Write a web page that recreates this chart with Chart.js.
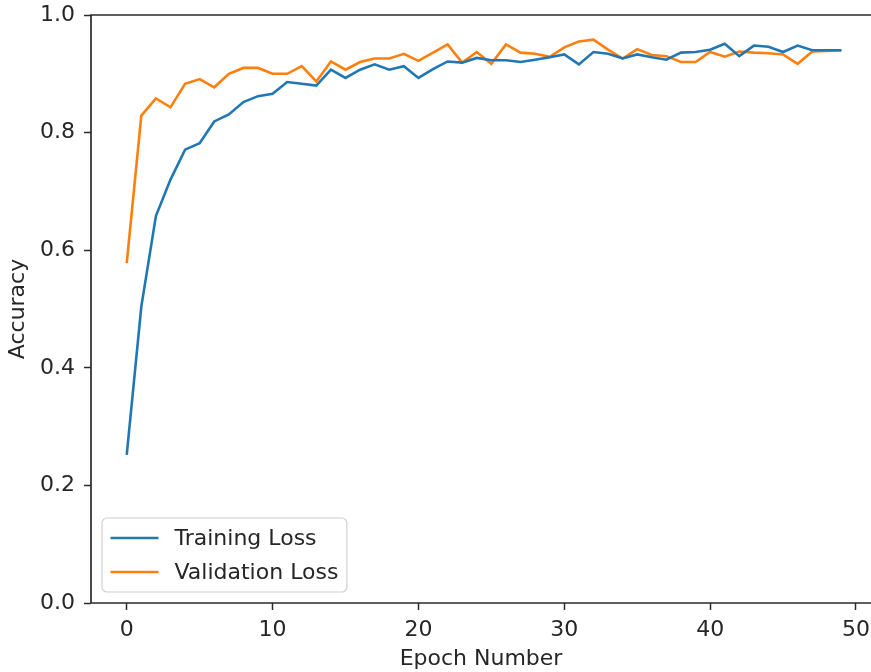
<!DOCTYPE html>
<html><head><meta charset="utf-8">
<script src="https://cdn.jsdelivr.net/npm/chart.js@4.4.1/dist/chart.umd.min.js"></script>
<style>html,body{margin:0;padding:0;overflow:hidden;background:#fff}</style>
</head><body>
<canvas id="c" width="871" height="672"></canvas>
<script>
const epochs = [0,1,2,3,4,5,6,7,8,9,10,11,12,13,14,15,16,17,18,19,20,21,22,23,24,25,26,27,28,29,30,31,32,33,34,35,36,37,38,39,40,41,42,43,44,45,46,47,48,49];
const trainingAcc = [0.252,0.504,0.658,0.720,0.771,0.782,0.819,0.831,0.852,0.862,
  0.866,0.886,0.883,0.880,0.907,0.893,0.907,0.916,0.907,0.913,
  0.893,0.908,0.921,0.919,0.927,0.923,0.923,0.920,0.924,0.928,
  0.933,0.916,0.937,0.934,0.926,0.933,0.928,0.924,0.936,0.937,
  0.941,0.951,0.930,0.948,0.946,0.937,0.948,0.940,0.940,0.940];
const validationAcc = [0.578,0.829,0.858,0.843,0.883,0.891,0.877,0.900,0.910,0.910,
  0.900,0.900,0.913,0.887,0.921,0.907,0.920,0.926,0.926,0.934,
  0.922,0.936,0.950,0.919,0.937,0.917,0.950,0.936,0.934,0.929,
  0.945,0.955,0.958,0.941,0.926,0.942,0.932,0.930,0.920,0.920,
  0.937,0.929,0.938,0.936,0.935,0.933,0.917,0.938,0.939,0.940];
const seriesLabels = ['Training Loss','Validation Loss'];
const xTicks = [0,10,20,30,40,50];
const yTicks = [0.0,0.2,0.4,0.6,0.8,1.0];
const xTitle = 'Epoch Number';
const yTitle = 'Accuracy';

const FONT = "'DejaVu Sans', sans-serif";
const FS = 22;
const TXT = '#262626';

const frameAndLegend = {
  id: 'frameAndLegend',
  afterDatasetsDraw(chart) {
    const {ctx, chartArea: a} = chart;
    ctx.save();
    ctx.strokeStyle = '#2b2b2b';
    ctx.lineWidth = 1.7;
    ctx.beginPath();
    ctx.moveTo(a.right + 5, a.top);
    ctx.lineTo(a.left, a.top);
    ctx.lineTo(a.left, a.bottom);
    ctx.lineTo(a.right + 5, a.bottom);
    ctx.stroke();
    // legend
    ctx.font = FS + 'px ' + FONT;
    const ds = chart.data.datasets;
    const tw = Math.max(...ds.map(d => ctx.measureText(d.label).width));
    const pad = 8.5, handle = 48, gap = 16, rowH = 34;
    const w = pad + handle + gap + tw + pad;
    const h = 74;
    const x0 = a.left + 11, y0 = a.bottom - 11 - h;
    ctx.beginPath();
    ctx.roundRect(x0, y0, w, h, 5);
    ctx.fillStyle = 'rgba(255,255,255,0.8)';
    ctx.fill();
    ctx.strokeStyle = '#d0d0d0';
    ctx.lineWidth = 1.2;
    ctx.stroke();
    ds.forEach((d, i) => {
      const cy = y0 + 20 + i * rowH;
      ctx.beginPath();
      ctx.moveTo(x0 + pad, cy);
      ctx.lineTo(x0 + pad + handle, cy);
      ctx.strokeStyle = d.borderColor;
      ctx.lineWidth = d.borderWidth;
      ctx.stroke();
      ctx.fillStyle = TXT;
      ctx.textBaseline = 'middle';
      ctx.textAlign = 'left';
      ctx.fillText(d.label, x0 + pad + handle + gap, cy + 1);
    });
    ctx.restore();
  }
};

new Chart(document.getElementById('c'), {
  type: 'line',
  data: {
    datasets: [
      {label: seriesLabels[0], data: epochs.map((e, i) => ({x: e, y: trainingAcc[i]})),
       borderColor: '#1f77b4', borderWidth: 2.6, pointRadius: 0, tension: 0, fill: false},
      {label: seriesLabels[1], data: epochs.map((e, i) => ({x: e, y: validationAcc[i]})),
       borderColor: '#ff7f0e', borderWidth: 2.6, pointRadius: 0, tension: 0, fill: false}
    ]
  },
  options: {
    responsive: false,
    animation: false,
    devicePixelRatio: 1,
    layout: {padding: {left: 0, top: 15, right: 0, bottom: 0}},
    plugins: {legend: {display: false}, tooltip: {enabled: false}},
    scales: {
      x: {
        type: 'linear', min: -2.45, max: 51.03,
        afterBuildTicks: s => { s.ticks = xTicks.map(v => ({value: v})); },
        afterFit: s => { s.height = 69; s.paddingLeft = 0; s.paddingRight = 0; },
        grid: {drawOnChartArea: false, drawTicks: true, tickLength: 7, tickColor: '#2b2b2b', tickWidth: 1.5},
        border: {display: false},
        ticks: {color: TXT, font: {family: FONT, size: FS}, padding: 7, maxRotation: 0, callback: v => String(v)},
        title: {display: true, text: xTitle, color: TXT, font: {family: FONT, size: FS}, padding: {top: 0, bottom: 0}}
      },
      y: {
        type: 'linear', min: 0, max: 1,
        afterBuildTicks: s => { s.ticks = yTicks.map(v => ({value: v})); },
        afterFit: s => { s.width = 91; s.paddingTop = 0; s.paddingBottom = 0; },
        grid: {drawOnChartArea: false, drawTicks: true, tickLength: 7, tickColor: '#2b2b2b', tickWidth: 1.5},
        border: {display: false},
        ticks: {color: TXT, font: {family: FONT, size: FS}, padding: 9, callback: v => Number(v).toFixed(1)},
        title: {display: true, text: yTitle, color: TXT, font: {family: FONT, size: FS}, padding: {top: 5, bottom: 0}}
      }
    }
  },
  plugins: [frameAndLegend]
});
</script>
</body></html>
